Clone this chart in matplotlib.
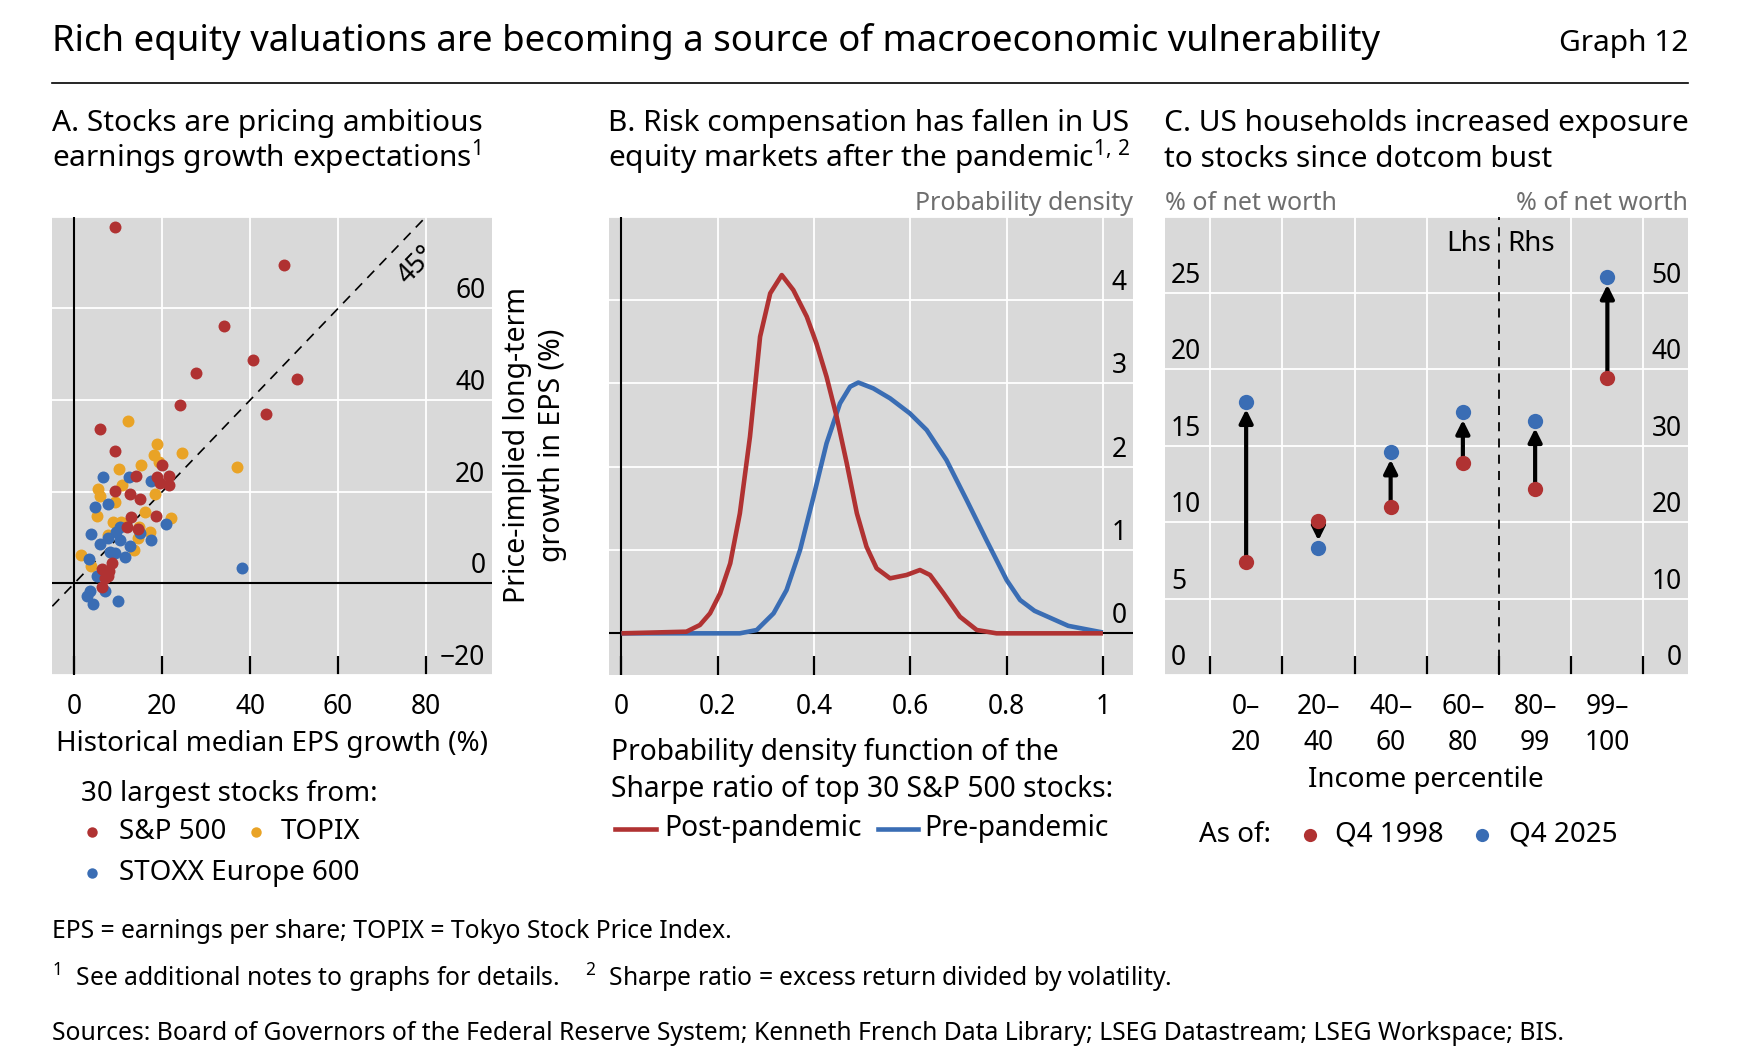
import numpy as np
import matplotlib
matplotlib.use("Agg")
import matplotlib.pyplot as plt
from matplotlib import transforms
from matplotlib.lines import Line2D

# Panel A: historical vs price-implied EPS growth (%), 30 largest stocks per index
sp_x = [9.3, 47.6, 34.1, 40.6, 27.7, 50.6, 24.1, 43.5, 5.9, 9.3, 20.0, 14.0, 18.8, 21.5, 21.5,
        9.2, 12.7, 14.9, 18.6, 12.8, 12.1, 14.4, 8.5, 6.2, 7.7, 7.0, 6.4, 8.0, 19.5]
sp_y = [77.7, 69.4, 56.1, 48.7, 46.0, 44.5, 38.9, 36.9, 33.6, 28.8, 25.8, 23.5, 23.1, 23.5, 21.4,
        20.2, 19.5, 18.4, 14.6, 14.5, 12.2, 11.9, 4.4, 3.1, 1.5, 1.2, -0.9, 2.8, 21.8]
topix_x = [12.3, 18.9, 18.2, 24.6, 37.0, 15.2, 10.1, 19.3, 10.8, 5.3, 5.8, 9.2, 18.4, 16.1, 5.2,
           8.9, 22.1, 14.8, 17.2, 10.6, 7.6, 14.4, 13.6, 1.6, 3.9]
topix_y = [35.4, 30.4, 28.0, 28.4, 25.4, 25.9, 25.0, 26.4, 21.4, 20.6, 19.0, 17.7, 19.6, 15.6, 14.6,
           13.4, 14.2, 12.4, 11.3, 13.4, 10.5, 9.9, 7.3, 6.2, 3.7]
stoxx_x = [6.6, 12.5, 17.4, 4.6, 7.7, 20.8, 10.4, 3.9, 7.7, 5.8, 10.4, 14.9, 17.5, 12.7, 8.1,
           9.2, 11.5, 3.4, 5.1, 38.1, 3.6, 7.0, 3.0, 4.2, 9.9, 9.6]
stoxx_y = [23.1, 23.2, 22.4, 16.6, 17.4, 12.9, 12.4, 10.8, 9.9, 8.5, 9.5, 11.0, 9.4, 8.2, 6.8,
           6.6, 5.7, 5.3, 1.7, 3.3, -1.7, -1.7, -2.8, -4.4, -3.9, 11.3]

# Panel B: density of the Sharpe ratio
post_x = [0, 0.135, 0.163, 0.184, 0.205, 0.226, 0.246, 0.267, 0.288, 0.309, 0.333, 0.357, 0.385,
          0.405, 0.426, 0.447, 0.468, 0.489, 0.509, 0.530, 0.558, 0.592, 0.620, 0.641, 0.669,
          0.703, 0.738, 0.779, 0.85, 1.0]
post_y = [0, 0.02, 0.10, 0.24, 0.48, 0.84, 1.44, 2.36, 3.56, 4.08, 4.30, 4.12, 3.80,
          3.48, 3.08, 2.60, 2.04, 1.44, 1.04, 0.78, 0.66, 0.70, 0.76, 0.70, 0.48,
          0.20, 0.04, 0.0, 0.0, 0.0]
pre_x = [0, 0.246, 0.281, 0.316, 0.343, 0.371, 0.399, 0.426, 0.454, 0.475, 0.492, 0.523, 0.558,
         0.599, 0.634, 0.675, 0.717, 0.758, 0.800, 0.828, 0.858, 0.928, 1.0]
pre_y = [0, 0, 0.04, 0.24, 0.52, 1.00, 1.64, 2.28, 2.76, 2.96, 3.01, 2.94, 2.82,
         2.64, 2.44, 2.08, 1.60, 1.12, 0.64, 0.40, 0.27, 0.09, 0.01]

# Panel C: stock share of net worth by income percentile
percentiles = ["0–\n20", "20–\n40", "40–\n60", "60–\n80", "80–\n99", "99–\n100"]
lhs_1998 = [7.4, 10.1, 11.0, 13.9]
lhs_2025 = [17.9, 8.3, 14.6, 17.2]
rhs_1998 = [24.3, 38.9]
rhs_2025 = [33.3, 52.1]

plt.rcParams["font.family"] = ["Noto Sans", "DejaVu Sans"]
plt.rcParams["mathtext.fontset"] = "custom"
plt.rcParams["mathtext.rm"] = "Noto Sans"
plt.rcParams["mathtext.it"] = "Noto Sans:italic"
plt.rcParams["mathtext.bf"] = "Noto Sans:bold"

RED = "#B03232"
ORANGE = "#E9A326"
BLUE = "#3A6DB4"
BG = "#D9D9D9"
GREY = "#6E6E6E"
TICK = 19
LAB = 20
FOOT = 17.8

W, H = 1744, 1064
fig = plt.figure(figsize=(W / 100, H / 100), dpi=100)


def fx(px):
    return px / W


def fy(py):
    return 1 - py / H


def make_axes(left, right, top, bottom):
    ax = fig.add_axes([fx(left), fy(bottom), (right - left) / W, (bottom - top) / H])
    ax.set_facecolor(BG)
    for s in ax.spines.values():
        s.set_visible(False)
    ax.set_axisbelow(True)
    return ax


def inside_labels(ax, values, labels, side, tdata=None):
    tdata = tdata if tdata is not None else ax.transData
    base = transforms.blended_transform_factory(ax.transAxes, tdata)
    if side == "right":
        tr = transforms.offset_copy(base, fig=fig, x=-6.5, y=10, units="dots")
        xa, ha = 1, "right"
    else:
        tr = transforms.offset_copy(base, fig=fig, x=6.5, y=10, units="dots")
        xa, ha = 0, "left"
    for v, t in zip(values, labels):
        ax.text(xa, v, t, transform=tr, ha=ha, va="baseline", fontsize=TICK)


# Header
fig.text(fx(52), fy(41), "Rich equity valuations are becoming a source of macroeconomic vulnerability",
         fontsize=26.3, va="center")
fig.text(fx(1688), fy(44), "Graph 12", fontsize=21.5, va="center", ha="right")
fig.add_artist(Line2D([fx(52), fx(1688)], [fy(83), fy(83)], color="black", lw=1.2))

panel_titles = [
    (52, "A. Stocks are pricing ambitious", "earnings growth expectations$^{1}$"),
    (608, "B. Risk compensation has fallen in US", "equity markets after the pandemic$^{1,\\,2}$"),
    (1164, "C. US households increased exposure", "to stocks since dotcom bust"),
]
for x, l1, l2 in panel_titles:
    fig.text(fx(x), fy(131), l1, fontsize=21.5, va="baseline")
    fig.text(fx(x), fy(167), l2, fontsize=21.5, va="baseline")

# ---------------- Panel A
axA = make_axes(52.3, 492, 216.7, 675)
axA.set_xlim(-5, 95)
axA.set_ylim(-20, 80)
axA.set_xticks([0, 20, 40, 60, 80])
axA.set_yticks([-20, 0, 20, 40, 60, 80])
axA.grid(True, color="white", lw=1.3)
axA.tick_params(axis="x", direction="in", length=14, width=1.6, pad=13, labelsize=TICK)
axA.tick_params(axis="y", length=0, labelleft=False)
axA.axhline(0, color="black", lw=1.5, zorder=2)
axA.axvline(0, color="black", lw=1.5, zorder=2)
axA.plot([-5, 95], [-5, 95], color="black", lw=1.2, ls=(0, (6, 4.5)), zorder=2)
axA.text(78, 69.4, "45°", rotation=46, ha="center", va="center", fontsize=19)
axA.scatter(topix_x, topix_y, s=74, color=ORANGE, zorder=3, linewidths=0)
axA.scatter(stoxx_x, stoxx_y, s=74, color=BLUE, zorder=4, linewidths=0)
axA.scatter(sp_x, sp_y, s=74, color=RED, zorder=5, linewidths=0)
inside_labels(axA, [-20, 0, 20, 40, 60], ["−20", "0", "20", "40", "60"], "right")

fig.text(fx(272), fy(744.5), "Historical median EPS growth (%)", fontsize=LAB, ha="center", va="center")
fig.text(fx(535), fy(445), "Price-implied long-term\ngrowth in EPS (%)", fontsize=20.5, rotation=90,
         ha="center", va="center", multialignment="center", linespacing=1.3)

fig.text(fx(81), fy(794.5), "30 largest stocks from:", fontsize=LAB, va="center")
for (dx, tx, yy, col, name) in [(92, 119, 832, RED, "S&P 500"), (256, 281, 832, ORANGE, "TOPIX"),
                                (92, 119, 873, BLUE, "STOXX Europe 600")]:
    fig.add_artist(Line2D([fx(dx)], [fy(yy)], marker="o", ms=7.5, color=col, mew=0, ls="none"))
    fig.text(fx(tx), fy(yy), name, fontsize=LAB, va="center")

# ---------------- Panel B
axB = make_axes(609, 1133, 216.7, 675)
axB.set_xlim(-0.0258, 1.0625)
axB.set_ylim(-0.5, 5)
axB.set_xticks([0, 0.2, 0.4, 0.6, 0.8, 1.0], ["0", "0.2", "0.4", "0.6", "0.8", "1"])
axB.set_yticks([0, 1, 2, 3, 4, 5])
axB.grid(True, color="white", lw=1.3)
axB.tick_params(axis="x", direction="in", length=14, width=1.6, pad=13, labelsize=TICK)
axB.tick_params(axis="y", length=0, labelleft=False)
axB.axhline(0, color="black", lw=1.5, zorder=2)
axB.axvline(0, color="black", lw=1.5, zorder=2)
axB.plot(pre_x, pre_y, color=BLUE, lw=3.3, zorder=3, solid_capstyle="butt", solid_joinstyle="round")
axB.plot(post_x, post_y, color=RED, lw=3.3, zorder=4, solid_capstyle="butt", solid_joinstyle="round")
inside_labels(axB, [0, 1, 2, 3, 4], ["0", "1", "2", "3", "4"], "right")

fig.text(fx(1133), fy(203), "Probability density", fontsize=18, color=GREY, ha="right", va="center")
fig.text(fx(611), fy(771), "Probability density function of the\nSharpe ratio of top 30 S&P 500 stocks:",
         fontsize=20.3, va="center", linespacing=1.36)
for (x0, x1, tx, col, name) in [(615, 656, 664, RED, "Post-pandemic"), (878, 918, 924, BLUE, "Pre-pandemic")]:
    fig.add_artist(Line2D([fx(x0), fx(x1)], [fy(828.5), fy(828.5)], color=col, lw=3.3))
    fig.text(fx(tx), fy(828.5), name, fontsize=20.3, va="center")

# ---------------- Panel C
axC = make_axes(1164.5, 1688, 216.7, 675)
pos = np.arange(1, len(percentiles) + 1)
bounds = np.arange(0.5, len(percentiles) + 1, 1.0)
axC.set_xlim(-0.13, 7.116)
axC.set_ylim(0, 30)
axC.set_yticks([0, 5, 10, 15, 20, 25, 30])
axC.grid(True, axis="y", color="white", lw=1.3)
for b in bounds:
    if b != 4.5:
        axC.axvline(b, color="white", lw=1.3, zorder=0.5)
axC.axvline(4.5, color="black", lw=1.3, ls=(0, (5, 4)), zorder=2)
axC.set_xticks(bounds, [""] * len(bounds))
axC.set_xticks(pos, percentiles, minor=True)
axC.tick_params(axis="x", which="major", direction="in", length=14, width=1.6)
axC.tick_params(axis="x", which="minor", length=0, pad=13, labelsize=TICK)
for lab in axC.get_xticklabels(minor=True):
    lab.set_linespacing(1.4)
axC.tick_params(axis="y", length=0, labelleft=False)

axC2 = axC.twinx()
axC2.set_ylim(0, 60)
axC2.tick_params(axis="y", length=0, labelright=False)
for s in axC2.spines.values():
    s.set_visible(False)

arrow = dict(arrowstyle="-|>", color="black", lw=3, shrinkA=0, shrinkB=5.5, mutation_scale=20)
for x, a, b in zip(pos[:4], lhs_1998, lhs_2025):
    axC.annotate("", xy=(x, b), xytext=(x, a), arrowprops=arrow, zorder=3)
for x, a, b in zip(pos[4:], rhs_1998, rhs_2025):
    axC2.annotate("", xy=(x, b), xytext=(x, a), arrowprops=arrow, zorder=3)
axC.scatter(pos[:4], lhs_1998, s=121, color=RED, zorder=4, linewidths=0)
axC.scatter(pos[:4], lhs_2025, s=121, color=BLUE, zorder=4, linewidths=0)
axC2.scatter(pos[4:], rhs_1998, s=121, color=RED, zorder=4, linewidths=0)
axC2.scatter(pos[4:], rhs_2025, s=121, color=BLUE, zorder=4, linewidths=0)

inside_labels(axC, [0, 5, 10, 15, 20, 25], ["0", "5", "10", "15", "20", "25"], "left")
inside_labels(axC, [0, 10, 20, 30, 40, 50], ["0", "10", "20", "30", "40", "50"], "right", axC2.transData)

trC = transforms.offset_copy(axC.transData, fig=fig, x=-8, y=0, units="dots")
axC.text(4.5, 28.2, "Lhs", transform=trC, ha="right", va="center", fontsize=LAB)
trC = transforms.offset_copy(axC.transData, fig=fig, x=8, y=0, units="dots")
axC.text(4.5, 28.2, "Rhs", transform=trC, ha="left", va="center", fontsize=LAB)

fig.text(fx(1164.5), fy(203), "% of net worth", fontsize=18, color=GREY, ha="left", va="center")
fig.text(fx(1688), fy(203), "% of net worth", fontsize=18, color=GREY, ha="right", va="center")
fig.text(fx(1426), fy(780), "Income percentile", fontsize=LAB, ha="center", va="center")
fig.text(fx(1199), fy(834.5), "As of:", fontsize=LAB, va="center")
for (dx, tx, col, name) in [(1310, 1335, RED, "Q4 1998"), (1482, 1509, BLUE, "Q4 2025")]:
    fig.add_artist(Line2D([fx(dx)], [fy(834.5)], marker="o", ms=9.5, color=col, mew=0, ls="none"))
    fig.text(fx(tx), fy(834.5), name, fontsize=LAB, va="center")

# Footnotes
fig.text(fx(52), fy(931), "EPS = earnings per share; TOPIX = Tokyo Stock Price Index.", fontsize=FOOT, va="center")
fig.text(fx(52), fy(978), "$^{1}$  See additional notes to graphs for details.    "
         "$^{2}$  Sharpe ratio = excess return divided by volatility.", fontsize=FOOT, va="center")
fig.text(fx(52), fy(1034), "Sources: Board of Governors of the Federal Reserve System; Kenneth French Data "
         "Library; LSEG Datastream; LSEG Workspace; BIS.", fontsize=FOOT, va="center")

fig.savefig("out.png", dpi=100)
